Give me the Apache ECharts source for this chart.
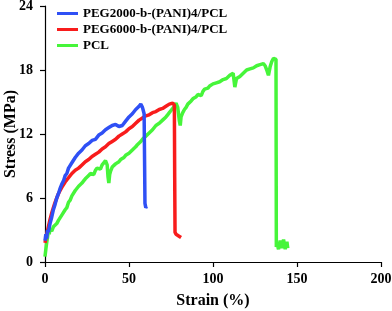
<!DOCTYPE html>
<html>
<head>
<meta charset="utf-8">
<script src="https://cdn.jsdelivr.net/npm/echarts@6/dist/echarts.min.js"></script>
<style>html,body{margin:0;padding:0;background:#fff;}#c{width:392px;height:311px;}</style>
</head>
<body>
<div id="c"></div>
<script>
var seriesNames = ['PEG2000-b-(PANI)4/PCL', 'PEG6000-b-(PANI)4/PCL', 'PCL'];
var xTicks = [0, 50, 100, 150, 200];
var yTicks = [0, 6, 12, 18, 24];

var blueStrain = [0,0.5,1,1.5,2,3,4,5,6,7,8,9,10,11,12,13,14,15,16,17,18,19,20,22,24,26,28,30,32,34,36,38,40,42,44,46,48,50,52,54,56,57,58,58.5,59,59.3,59.5,60,60.5];
var blueStress = [2.0,2.6,2.2,3.0,2.8,3.6,4.2,4.9,5.4,6.0,6.4,6.9,7.3,7.6,8.1,8.3,8.8,8.9,9.3,9.4,9.8,9.9,10.2,10.5,10.9,11.1,11.4,11.5,11.9,12.1,12.4,12.6,12.8,12.9,12.7,12.8,13.2,13.6,13.9,14.3,14.6,14.8,14.5,14.2,13.9,9.0,5.5,5.1,5.2];

var redStrain = [0,1,2,3,4,5,6,7,8,9,10,12,14,16,18,20,22,24,26,28,30,32,34,36,38,40,42,44,46,48,50,52,54,56,58,60,62,64,66,68,70,72,74,76,77,77.2,77.4,78,79,80,81];
var redStress = [1.8,2.6,3.3,4.0,4.6,5.1,5.6,6.0,6.4,6.7,7.0,7.5,7.9,8.3,8.6,8.8,9.1,9.4,9.6,9.9,10.1,10.3,10.6,10.8,11.1,11.3,11.5,11.8,12.0,12.2,12.5,12.7,13.0,13.3,13.5,13.7,13.8,14.0,14.1,14.3,14.4,14.6,14.8,14.9,14.7,8.0,2.8,2.6,2.7,2.4,2.3];

var greenStrain = [0,0.5,1,1.5,2,2.5,3,4,5,6,7,8,9,10,11,12,13,14,15,16,17,18,19,20,21,22,23,24,25,26,27,28,29,30,31,32,33,34,35,36,37,37.5,38,38.5,39,40,41,42,43,44,45,46,47,48,49,50,51,52,53,54,55,56,57,58,59,60,61,62,63,64,65,66,67,68,69,70,71,72,73,74,75,76,77,78,79,80,80.5,81,82,83,84,85,86,87,88,89,90,91,92,93,94,95,96,97,98,99,100,102,104,106,108,110,112,113,114,116,118,120,122,124,126,128,130,131,132,133,134,135,136,137,137.5,137.6,137.7,138,139,140,141,142,143,144,144.5];
var greenStress = [0.5,1.2,1.8,2.3,2.9,2.6,3.1,2.9,3.3,3.2,3.6,3.9,4.0,4.4,4.5,4.9,5.1,5.6,5.8,6.2,6.3,6.7,6.8,7.1,7.0,7.4,7.6,7.8,7.7,8.1,8.3,8.4,8.2,8.6,8.8,8.9,8.7,9.1,9.3,9.5,9.1,8.0,7.4,8.2,8.5,8.9,8.8,9.2,9.1,9.4,9.6,9.5,9.8,10.0,9.9,10.2,10.3,10.5,10.6,10.8,11.0,11.1,11.3,11.5,11.6,11.8,11.9,12.1,12.2,12.4,12.5,12.8,12.7,13.0,13.1,13.3,13.2,13.6,13.8,14.0,14.2,14.3,14.6,14.9,14.5,13.2,12.8,13.6,14.0,14.3,14.5,14.8,14.9,15.1,15.3,15.2,15.5,15.7,15.8,15.6,16.0,16.2,16.1,16.3,16.5,16.4,16.7,16.8,16.9,17.1,17.2,17.5,17.7,16.4,17.2,17.4,17.7,18.0,18.1,18.2,18.4,18.5,18.6,18.4,18.0,17.5,18.3,18.8,19.1,19.2,19.0,10.0,1.4,1.8,1.2,2.0,1.3,2.1,1.2,1.9,1.3];

function pairs(xs, ys) { return xs.map(function (x, i) { return [x, ys[i]]; }); }

var font = '"Liberation Serif", "Times New Roman", serif';
var chart = echarts.init(document.getElementById('c'), null, {renderer: 'canvas'});
var axisCommon = {
  axisLine: {show: true, lineStyle: {color: '#000', width: 1.2}},
  axisTick: {show: true, inside: false, length: 5, lineStyle: {color: '#000', width: 1.2}},
  splitLine: {show: false},
  nameLocation: 'middle',
  nameMoveOverlap: false,
  nameTextStyle: {fontFamily: font, fontWeight: 'bold', fontSize: 16, color: '#000'}
};
chart.setOption({
  animation: false,
  backgroundColor: '#fff',
  grid: {left: 45, right: 11, top: 6, bottom: 49, containLabel: false, outerBoundsMode: 'none'},
  legend: {
    data: seriesNames,
    orient: 'vertical',
    left: 52, top: 2,
    icon: 'rect', itemWidth: 21, itemHeight: 3, itemGap: 3,
    textStyle: {fontFamily: font, fontWeight: 'bold', fontSize: 13, color: '#000', lineHeight: 13, height: 13}
  },
  xAxis: Object.assign({}, axisCommon, {
    type: 'value', min: xTicks[0], max: xTicks[xTicks.length - 1], interval: 50,
    name: 'Strain (%)', nameGap: 31,
    axisLabel: {fontFamily: font, fontWeight: 'bold', fontSize: 14, color: '#000', margin: 10}
  }),
  yAxis: Object.assign({}, axisCommon, {
    type: 'value', min: yTicks[0], max: yTicks[yTicks.length - 1], interval: 6,
    name: 'Stress (MPa)', nameGap: 26,
    axisLabel: {fontFamily: font, fontWeight: 'bold', fontSize: 14, color: '#000', margin: 12}
  }),
  series: [
    {name: seriesNames[2], type: 'line', data: pairs(greenStrain, greenStress), showSymbol: false, symbol: 'none', lineStyle: {color: '#46f53a', width: 3.5}, itemStyle: {color: '#46f53a'}},
    {name: seriesNames[1], type: 'line', data: pairs(redStrain, redStress), showSymbol: false, symbol: 'none', lineStyle: {color: '#f81c1c', width: 3.5}, itemStyle: {color: '#f81c1c'}},
    {name: seriesNames[0], type: 'line', data: pairs(blueStrain, blueStress), showSymbol: false, symbol: 'none', lineStyle: {color: '#2f50f5', width: 3.5}, itemStyle: {color: '#2f50f5'}}
  ]
});
</script>
</body>
</html>
